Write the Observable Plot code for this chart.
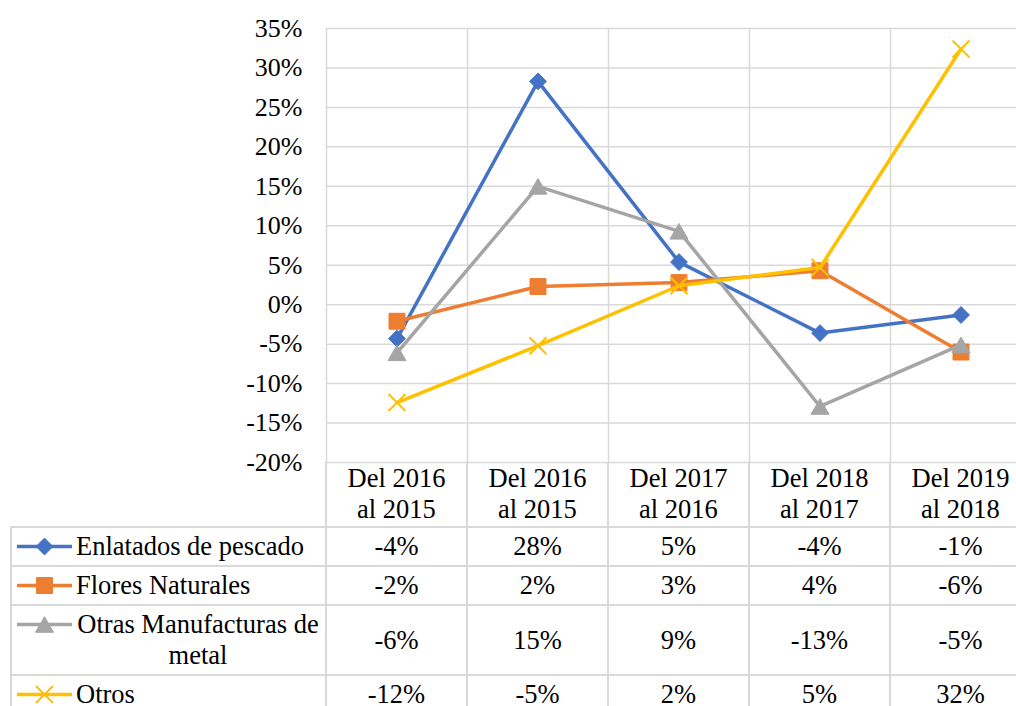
<!DOCTYPE html>
<html><head><meta charset="utf-8">
<script src="https://cdn.jsdelivr.net/npm/d3@7"></script>
<script src="https://cdn.jsdelivr.net/npm/@observablehq/plot@0.6"></script>
<style>
html,body{margin:0;padding:0;background:#fff;overflow:hidden;width:1016px;height:706px;}
#wrap{position:relative;width:1016px;height:706px;overflow:hidden;font-family:"Liberation Serif","Times New Roman",serif;color:#000;}
#tbl{position:absolute;left:10px;top:462px;display:grid;grid-template-columns:317px repeat(5,141px);grid-template-rows:66px 39px 39px 70px 39px;font-size:26.5px;}
.c{box-sizing:border-box;border-right:2px solid #d9d9d9;border-bottom:2px solid #d9d9d9;display:flex;align-items:center;justify-content:center;text-align:center;line-height:31px;white-space:pre-line;}
.lg{border-left:2px solid #d9d9d9;justify-content:flex-start;}
.sw{margin-left:5px;width:55px;height:31px;flex:none;}
.lt{margin-left:4px;max-width:244px;text-align:center;white-space:normal;}
</style></head>
<body><div id="wrap"><div id="chart"></div><div id="tbl"></div></div>
<script>
const categories = ["Del 2016\nal 2015", "Del 2016\nal 2015", "Del 2017\nal 2016", "Del 2018\nal 2017", "Del 2019\nal 2018"];
const seriesNames = ["Enlatados de pescado", "Flores Naturales", "Otras Manufacturas de metal", "Otros"];
const enlatados = [-4.3, 28.3, 5.4, -3.6, -1.3];
const flores = [-2.1, 2.3, 2.8, 4.3, -6.0];
const otrasManufacturas = [-6.1, 15.0, 9.3, -12.9, -5.1];
const otros = [-12.4, -5.2, 2.4, 4.7, 32.4];
const yTicks = [-20, -15, -10, -5, 0, 5, 10, 15, 20, 25, 30, 35];

const seriesValues = [enlatados, flores, otrasManufacturas, otros];
const colors = ["#4472C4", "#ED7D31", "#A5A5A5", "#FFC000"];
const symbols = ["diamond2", "square", "triangle", "times"];
const symR = [7.6, 9.0, 6.7, 7.8];
const symDy = [0, 0, 2.6, 0];
const font = "Liberation Serif, Times New Roman, serif";
const pct = d => Math.round(d) + "%";

const rows = seriesValues.map((vals, s) => vals.map((v, i) => ({series: seriesNames[s], i, value: v})));
const bounds = d3.range(categories.length + 1).map(k => k - 0.5);

const marks = [
  Plot.ruleY(yTicks, {y: d => d, stroke: "#d9d9d9", strokeWidth: 1.5}),
  Plot.ruleX(bounds, {x: d => d, stroke: "#d9d9d9", strokeWidth: 1.5}),
  Plot.axisY({ticks: yTicks, tickSize: 0, tickPadding: 24, tickFormat: pct, label: null, fontSize: 26, fontFamily: font, fill: "#000"})
];
rows.forEach((data, s) => {
  marks.push(Plot.line(data, {x: "i", y: "value", stroke: colors[s], strokeWidth: 3.5}));
  const isTimes = symbols[s] === "times";
  marks.push(Plot.dot(data, {x: "i", y: "value", symbol: symbols[s], r: symR[s], dy: symDy[s],
    fill: isTimes ? "none" : colors[s], stroke: colors[s], strokeWidth: isTimes ? 2 : 1}));
});

const chart = Plot.plot({
  width: 1031, height: 530,
  marginLeft: 326, marginRight: 0, marginTop: 28, marginBottom: 68,
  x: {domain: [-0.5, categories.length - 0.5], axis: null},
  y: {domain: [-20, 35], axis: null, label: null},
  style: {fontFamily: font, color: "#000", overflow: "visible", maxWidth: "none", background: "transparent"},
  marks
});
document.getElementById("chart").appendChild(chart);

// data table with legend keys
const tbl = d3.select("#tbl");
tbl.append("div").attr("class", "c");
categories.forEach(c => tbl.append("div").attr("class", "c").text(c));
seriesNames.forEach((name, s) => {
  const cell = tbl.append("div").attr("class", "c lg");
  if (s === 2) cell.style("align-items", "flex-start").style("padding-top", "3px");
  const svg = cell.append("svg").attr("class", "sw").attr("width", 55).attr("height", 31);
  svg.append("line").attr("x1", 0).attr("x2", 55).attr("y1", 15.5).attr("y2", 15.5)
    .attr("stroke", colors[s]).attr("stroke-width", 3.5);
  const sym = {diamond2: d3.symbolDiamond2, square: d3.symbolSquare, triangle: d3.symbolTriangle, times: d3.symbolTimes}[symbols[s]];
  const isTimes = symbols[s] === "times";
  svg.append("path").attr("d", d3.symbol(sym, Math.PI * symR[s] * symR[s])())
    .attr("transform", `translate(27.5,${15.5 + symDy[s]})`)
    .attr("fill", isTimes ? "none" : colors[s]).attr("stroke", colors[s]).attr("stroke-width", isTimes ? 2 : 1);
  cell.append("div").attr("class", "lt").text(name);
  seriesValues[s].forEach(v => tbl.append("div").attr("class", "c").text(pct(v)));
});
</script></body></html>
